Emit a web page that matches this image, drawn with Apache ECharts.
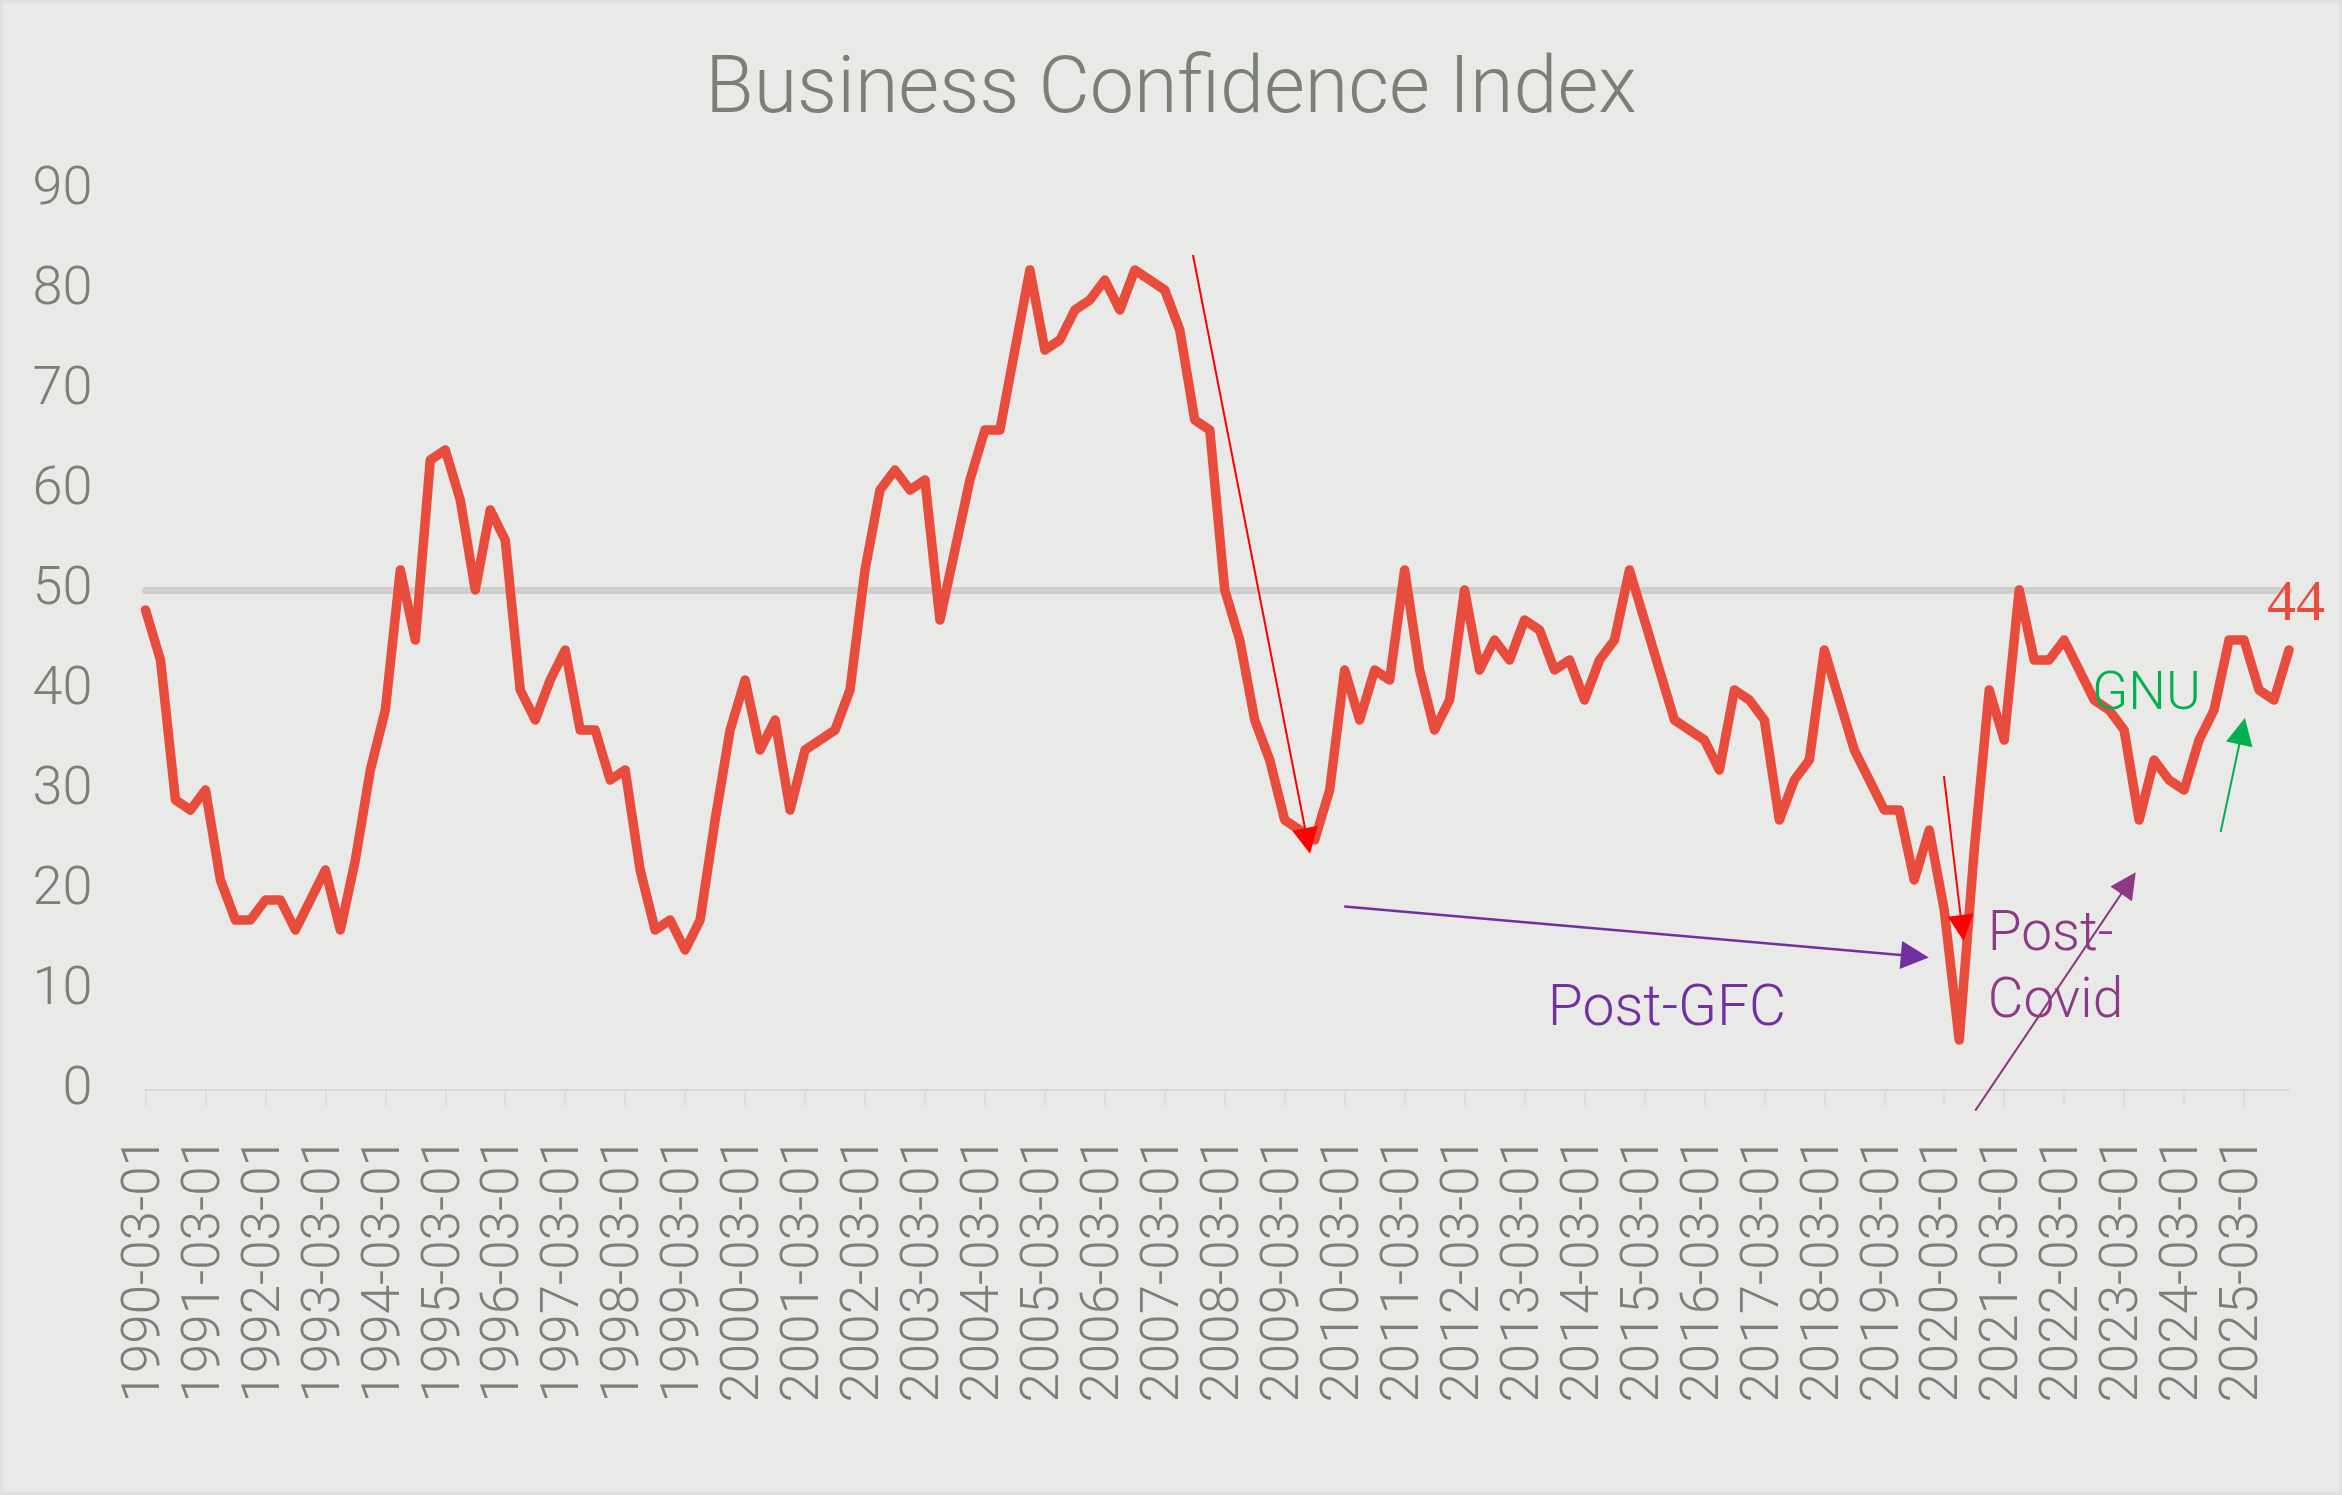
<!DOCTYPE html>
<html>
<head>
<meta charset="utf-8">
<title>Business Confidence Index</title>
<script src="https://cdn.jsdelivr.net/npm/echarts@6/dist/echarts.min.js"></script>
<style>
  html, body { margin: 0; padding: 0; background: #e9e9e7; }
  #chart { width: 2342px; height: 1495px; }
</style>
</head>
<body>
<div id="chart"></div>
<script>
// quarterly index, 1990 Q1 .. 2025 Q4
const firstYear = 1990
const lastYear = 2025
const quarterMonths = ['03', '06', '09', '12']
const confidence = [
  48, 43, 29, 28, 30, 21, 17, 17, 19, 19, 16, 19,
  22, 16, 23, 32, 38, 52, 45, 63, 64, 59, 50, 58,
  55, 40, 37, 41, 44, 36, 36, 31, 32, 22, 16, 17,
  14, 17, 27, 36, 41, 34, 37, 28, 34, 35, 36, 40,
  52, 60, 62, 60, 61, 47, 54, 61, 66, 66, 74, 82,
  74, 75, 78, 79, 81, 78, 82, 81, 80, 76, 67, 66,
  50, 45, 37, 33, 27, 26, 25, 30, 42, 37, 42, 41,
  52, 42, 36, 39, 50, 42, 45, 43, 47, 46, 42, 43,
  39, 43, 45, 52, 47, 42, 37, 36, 35, 32, 40, 39,
  37, 27, 31, 33, 44, 39, 34, 31, 28, 28, 21, 26,
  18, 5, 24, 40, 35, 50, 43, 43, 45, 42, 39, 38,
  36, 27, 33, 31, 30, 35, 38, 45, 45, 40, 39, 44
]
const neutralLevel = 50
const latestValue = confidence[confidence.length - 1]

const quarters = []
for (let y = firstYear; y <= lastYear; y++) {
  quarterMonths.forEach(m => quarters.push(y + '-' + m + '-01'))
}

const grey = '#7a7f78'
const font = 'Roboto'

// annotation arrows, in [quarter index, index value]
const arrows = [
  { from: [69.88, 83.5], to: [77.52, 24.9], color: '#ff0000', width: 2, head: 26 },
  { from: [119.98, 31.4], to: [121.19, 16.2], color: '#ff0000', width: 2, head: 26 },
  { from: [79.97, 18.34], to: [118.04, 13.38], color: '#7030a0', width: 2.5, head: 28 },
  { from: [122.07, -2.06], to: [132.29, 20.69], color: '#8b3a83', width: 2, head: 26 },
  { from: [138.44, 25.8], to: [139.87, 35.88], color: '#00b050', width: 2, head: 27 }
]

const notes = [
  { at: [101.5, 7.9], text: 'Post-GFC', color: '#7030a0', size: 57, align: 'center' },
  { at: [122.9, 12.05], text: 'Post-\nCovid', color: '#8b3a83', size: 55, align: 'left', lineHeight: 67 },
  { at: [133.49, 39.4], text: 'GNU', color: '#00b050', size: 53, align: 'center' },
  { at: [143.46, 48.5], text: String(latestValue), color: '#e84c3d', size: 58, align: 'center', family: 'Liberation Serif' }
]

const myChart = echarts.init(document.getElementById('chart'))
let option = {
  backgroundColor: '#e9e9e7',
  animation: false,
  graphic: [
    {
      type: 'rect',
      silent: true,
      shape: { x: 0, y: 0, width: 2342, height: 1495 },
      style: { fill: 'none', stroke: '#e0e0de', lineWidth: 6 }
    }
  ],
  title: {
    text: 'Business Confidence Index',
    left: 'center',
    top: 48,
    textStyle: {
      color: grey,
      fontFamily: font,
      fontWeight: 300,
      fontSize: 79
    }
  },
  grid: [
    { left: 145.5, right: 53, top: 190, bottom: 405 },
    // helper grid with the same scale, a bit wider, for annotations
    { left: 115.52, right: 23.02, top: 90, bottom: 305 }
  ],
  xAxis: [
    {
      type: 'category',
      data: quarters,
      boundaryGap: false,
      axisLine: { lineStyle: { color: '#d9d9d7', width: 2 } },
      axisTick: { interval: 3, length: 16, lineStyle: { color: '#d9d9d7', width: 1.5 } },
      axisLabel: {
        interval: 3,
        rotate: 90,
        margin: 47,
        color: grey,
        fontFamily: font,
        fontWeight: 300,
        fontSize: 53
      },
      splitLine: { show: false }
    },
    { gridIndex: 1, type: 'value', min: -2, max: 145, show: false }
  ],
  yAxis: [
    {
      type: 'value',
      min: 0,
      max: 90,
      interval: 10,
      axisLine: { show: false },
      axisTick: { show: false },
      splitLine: { show: false },
      axisLabel: {
        margin: 53,
        color: grey,
        fontFamily: font,
        fontWeight: 300,
        fontSize: 54
      }
    },
    { gridIndex: 1, type: 'value', min: -10, max: 100, show: false }
  ],
  series: [
    {
      name: 'Business Confidence Index',
      type: 'line',
      data: confidence,
      symbol: 'none',
      z: 3,
      lineStyle: { color: '#e84c3d', width: 9.5, join: 'round', cap: 'round' },
      itemStyle: { color: '#e84c3d' },
      markLine: {
        silent: true,
        z: 1,
        symbol: 'none',
        label: { show: false },
        lineStyle: { color: '#d0cecd', width: 7, type: 'solid', cap: 'round' },
        data: [{ yAxis: neutralLevel }]
      }
    },
    {
      name: 'notes',
      type: 'line',
      xAxisIndex: 1,
      yAxisIndex: 1,
      data: [],
      silent: true,
      markLine: {
        silent: true,
        z: 4,
        label: { show: false },
        data: arrows.map(a => [
          { coord: a.from, symbol: 'none', lineStyle: { color: a.color, width: a.width, type: 'solid' } },
          { coord: a.to, symbol: 'triangle', symbolSize: a.head }
        ])
      },
      markPoint: {
        silent: true,
        z: 4,
        data: notes.map(n => ({
          coord: n.at,
          symbol: 'circle',
          symbolSize: 1,
          itemStyle: { color: 'rgba(0,0,0,0)' },
          label: {
            show: true,
            position: 'inside',
            formatter: n.text,
            align: n.align,
            verticalAlign: 'middle',
            color: n.color,
            fontSize: n.size,
            lineHeight: n.lineHeight || n.size * 1.2,
            fontFamily: n.family || font,
            fontWeight: n.family ? 'normal' : 300
          }
        }))
      }
    }
  ]
}
myChart.setOption(option)
</script>
</body>
</html>
